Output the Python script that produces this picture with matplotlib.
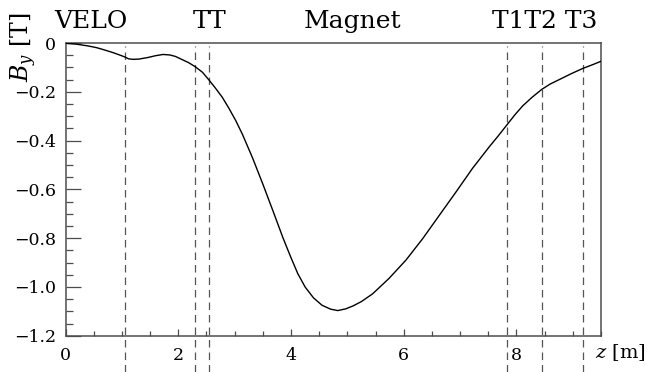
import matplotlib
matplotlib.use("Agg")
import matplotlib.pyplot as plt
from matplotlib.ticker import FixedLocator, MultipleLocator

# Field profile along the beam axis
z_m = [0.00, 0.20, 0.40, 0.55, 0.70, 0.85, 0.97, 1.05, 1.12, 1.20, 1.30, 1.45,
       1.60, 1.73, 1.85, 1.95, 2.05, 2.18, 2.30, 2.43, 2.55, 2.66, 2.78, 2.90,
       3.02, 3.14, 3.32, 3.50, 3.68, 3.86, 4.00, 4.12, 4.25, 4.40, 4.55, 4.70,
       4.83, 4.97, 5.10, 5.25, 5.45, 5.74, 6.04, 6.34, 6.63, 6.93, 7.22, 7.52,
       7.68, 7.83, 7.97, 8.11, 8.28, 8.45, 8.60, 8.76, 8.97, 9.18, 9.35, 9.50]
b_y = [-0.001, -0.005, -0.012, -0.019, -0.029, -0.040, -0.050, -0.057, -0.065,
       -0.067, -0.066, -0.060, -0.052, -0.047, -0.049, -0.055, -0.066, -0.080,
       -0.097, -0.120, -0.153, -0.185, -0.222, -0.268, -0.318, -0.375, -0.472,
       -0.578, -0.688, -0.800, -0.880, -0.945, -1.000, -1.045, -1.075, -1.091,
       -1.097, -1.090, -1.078, -1.060, -1.028, -0.965, -0.890, -0.801, -0.707,
       -0.610, -0.514, -0.425, -0.380, -0.336, -0.295, -0.258, -0.222, -0.190,
       -0.168, -0.150, -0.126, -0.104, -0.089, -0.075]

# Detector stations
station_z = [1.05, 2.30, 2.55, 7.83, 8.45, 9.18]
region_names = ["VELO", "TT", "Magnet", "T1T2 T3"]
region_z = [0.45, 2.55, 5.1, 8.5]

x_ticks = [0, 2, 4, 6, 8]
x_tick_labels = ["0", "2", "4", "6", "8"]
y_ticks = [0.0, -0.2, -0.4, -0.6, -0.8, -1.0, -1.2]
y_tick_labels = ["0", "\u22120.2", "\u22120.4", "\u22120.6", "\u22120.8",
                 "\u22121.0", "\u22121.2"]

plt.rcParams["font.family"] = ["DejaVu Serif"]
plt.rcParams["mathtext.fontset"] = "dejavuserif"

fig = plt.figure(figsize=(6.48, 3.72), dpi=100)
ax = fig.add_axes([65.5 / 648, 36.3 / 372, 535.5 / 648, 292.7 / 372])

frame_col = "#4d4d4d"
for s in ax.spines.values():
    s.set_color(frame_col)
    s.set_linewidth(1.1)

ax.plot(z_m, b_y, color="black", lw=1.0, zorder=3)

for zs in station_z:
    ax.axvline(zs, ymin=-0.124, ymax=0.99, color="#555555", lw=0.9,
               ls=(0, (6, 4)), clip_on=False, zorder=2)

ax.set_xlim(0, 9.5)
ax.set_ylim(-1.2, 0)

ax.xaxis.set_major_locator(FixedLocator(x_ticks))
ax.set_xticklabels(x_tick_labels)
ax.xaxis.set_minor_locator(MultipleLocator(0.5))
ax.yaxis.set_major_locator(FixedLocator(y_ticks))
ax.set_yticklabels(y_tick_labels)
ax.yaxis.set_minor_locator(MultipleLocator(0.05))

ax.tick_params(axis="both", which="both", direction="in", color=frame_col,
               labelsize=12.5, width=0.9, top=False, right=False)
ax.tick_params(axis="x", which="major", length=5, pad=8)
ax.tick_params(axis="x", which="minor", length=3.4)
ax.tick_params(axis="y", which="major", length=10.8, pad=7)
ax.tick_params(axis="y", which="minor", length=5)

for name, zc in zip(region_names, region_z):
    ax.text(zc, 1.051, name, transform=ax.get_xaxis_transform(),
            ha="center", va="baseline", fontsize=18)

ax.text(-0.078, 1.105, r"$B_y$ [T]", transform=ax.transAxes, rotation=90,
        ha="center", va="top", fontsize=17)
ax.text(0.989, -0.059, r"$z$ [m]", transform=ax.transAxes,
        ha="left", va="center", fontsize=14)

fig.savefig("out.png", dpi=100)
